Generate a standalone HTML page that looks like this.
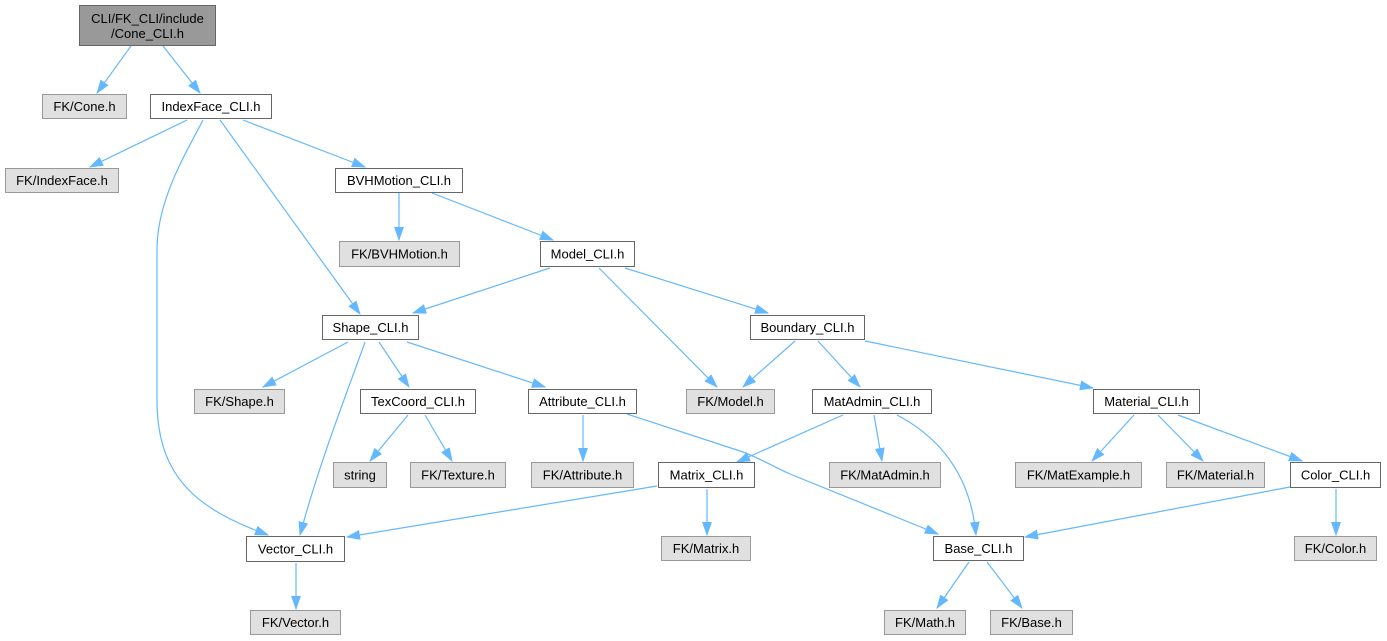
<!DOCTYPE html>
<html><head><meta charset="utf-8"><style>
html,body{margin:0;padding:0;background:#fff;}
svg{display:block;}
text{font-family:"Liberation Sans",Helvetica,Arial,sans-serif;font-size:13px;fill:#000;text-anchor:middle;}
.n rect{fill:#fff;stroke:#666;stroke-width:1;}
.g rect{fill:#e0e0e0;stroke:#999;stroke-width:1;}
.r rect{fill:#999;stroke:#666;stroke-width:1;}
.e path{fill:none;stroke:#63b8ff;stroke-width:1.2;marker-end:url(#ah);}
</style></head><body>
<svg width="1387" height="641" viewBox="0 0 1387 641" xmlns="http://www.w3.org/2000/svg">
<defs>
<marker id="ah" markerUnits="userSpaceOnUse" markerWidth="14" markerHeight="11" refX="13" refY="5" orient="auto">
<path d="M0,0.5 L13,5 L0,9.5 z" fill="#63b8ff" stroke="#63b8ff" stroke-width="0.8"/>
</marker>
</defs>
<g class="e">
<path d="M131,46 L97,93"/>
<path d="M163,46 L200,93"/>
<path d="M187,120 L90,167"/>
<path d="M220,120 L360,314"/>
<path d="M243,120 L365,167"/>
<path d="M203,120 C185,155 157,200 157,250 L157,400 C157,480 200,510 268,535"/>
<path d="M399,193 L399,240"/>
<path d="M432,193 L553,240"/>
<path d="M550,268 L413,313"/>
<path d="M599,268 L717,387"/>
<path d="M625,268 L768,313"/>
<path d="M795,341 L743,387"/>
<path d="M818,341 L860,387"/>
<path d="M865,341 L1093,388"/>
<path d="M348,342 L263,387"/>
<path d="M379,342 L409,387"/>
<path d="M407,342 L545,387"/>
<path d="M365,342 C350,385 320,460 300,535"/>
<path d="M408,415 L370,461"/>
<path d="M425,415 L452,461"/>
<path d="M583,415 L583,461"/>
<path d="M627,414 L740,451 C760,458 770,465 790,474 L938,534"/>
<path d="M843,415 L737,462"/>
<path d="M874,415 L882,461"/>
<path d="M897,415 C935,435 970,470 976,535"/>
<path d="M657,486 L347,537"/>
<path d="M707,489 L707,535"/>
<path d="M1134,415 L1092,461"/>
<path d="M1158,415 L1203,461"/>
<path d="M1178,415 L1302,461"/>
<path d="M1290,487 L1025,537"/>
<path d="M1336,489 L1336,535"/>
<path d="M296,563 L296,609"/>
<path d="M969,562 L937,608"/>
<path d="M987,562 L1022,608"/>
</g>

<g class="r"><rect x="79.5" y="5.5" width="136" height="40"/>
<text x="147.5" y="23">CLI/FK_CLI/include</text><text x="147.5" y="38">/Cone_CLI.h</text></g>

<g class="g"><rect x="42.5" y="94.5" width="84" height="24"/><text x="84.5" y="111">FK/Cone.h</text></g>
<g class="n"><rect x="150.5" y="94.5" width="121" height="24"/><text x="211" y="111">IndexFace_CLI.h</text></g>
<g class="g"><rect x="5.5" y="168.5" width="113" height="24"/><text x="62" y="185">FK/IndexFace.h</text></g>
<g class="n"><rect x="335.5" y="168.5" width="127" height="24"/><text x="399" y="185">BVHMotion_CLI.h</text></g>
<g class="g"><rect x="339.5" y="241.5" width="120" height="25"/><text x="399.5" y="258.5">FK/BVHMotion.h</text></g>
<g class="n"><rect x="540.5" y="241.5" width="94" height="25"/><text x="587.5" y="258.5">Model_CLI.h</text></g>
<g class="n"><rect x="322.5" y="315.5" width="96" height="24"/><text x="370.5" y="332">Shape_CLI.h</text></g>
<g class="n"><rect x="750.5" y="315.5" width="114" height="24"/><text x="807.5" y="332">Boundary_CLI.h</text></g>
<g class="g"><rect x="194.5" y="389.5" width="90" height="24"/><text x="239.5" y="406">FK/Shape.h</text></g>
<g class="n"><rect x="360.5" y="389.5" width="115" height="24"/><text x="418" y="406">TexCoord_CLI.h</text></g>
<g class="n"><rect x="528.5" y="389.5" width="108" height="24"/><text x="582.5" y="406">Attribute_CLI.h</text></g>
<g class="g"><rect x="686.5" y="389.5" width="88" height="24"/><text x="730.5" y="406">FK/Model.h</text></g>
<g class="n"><rect x="812.5" y="389.5" width="119" height="24"/><text x="872" y="406">MatAdmin_CLI.h</text></g>
<g class="n"><rect x="1093.5" y="389.5" width="106" height="24"/><text x="1146.5" y="406">Material_CLI.h</text></g>
<g class="g"><rect x="333.5" y="462.5" width="53" height="25"/><text x="360" y="479.5">string</text></g>
<g class="g"><rect x="410.5" y="462.5" width="95" height="25"/><text x="458" y="479.5">FK/Texture.h</text></g>
<g class="g"><rect x="531.5" y="462.5" width="102" height="25"/><text x="582.5" y="479.5">FK/Attribute.h</text></g>
<g class="n"><rect x="658.5" y="462.5" width="96" height="25"/><text x="706.5" y="479.5">Matrix_CLI.h</text></g>
<g class="g"><rect x="829.5" y="462.5" width="111" height="25"/><text x="885" y="479.5">FK/MatAdmin.h</text></g>
<g class="g"><rect x="1015.5" y="462.5" width="126" height="25"/><text x="1078.5" y="479.5">FK/MatExample.h</text></g>
<g class="g"><rect x="1166.5" y="462.5" width="98" height="25"/><text x="1215.5" y="479.5">FK/Material.h</text></g>
<g class="n"><rect x="1290.5" y="462.5" width="90" height="25"/><text x="1335.5" y="479.5">Color_CLI.h</text></g>
<g class="n"><rect x="246.5" y="536.5" width="98" height="25"/><text x="295.5" y="553.5">Vector_CLI.h</text></g>
<g class="g"><rect x="661.5" y="536.5" width="89" height="24"/><text x="706" y="553">FK/Matrix.h</text></g>
<g class="n"><rect x="933.5" y="536.5" width="90" height="24"/><text x="978.5" y="553">Base_CLI.h</text></g>
<g class="g"><rect x="1294.5" y="536.5" width="82" height="24"/><text x="1335.5" y="553">FK/Color.h</text></g>
<g class="g"><rect x="250.5" y="610.5" width="90" height="24"/><text x="295.5" y="627">FK/Vector.h</text></g>
<g class="g"><rect x="884.5" y="610.5" width="81" height="24"/><text x="925" y="627">FK/Math.h</text></g>
<g class="g"><rect x="990.5" y="610.5" width="82" height="24"/><text x="1031.5" y="627">FK/Base.h</text></g>
</svg>
</body></html>
